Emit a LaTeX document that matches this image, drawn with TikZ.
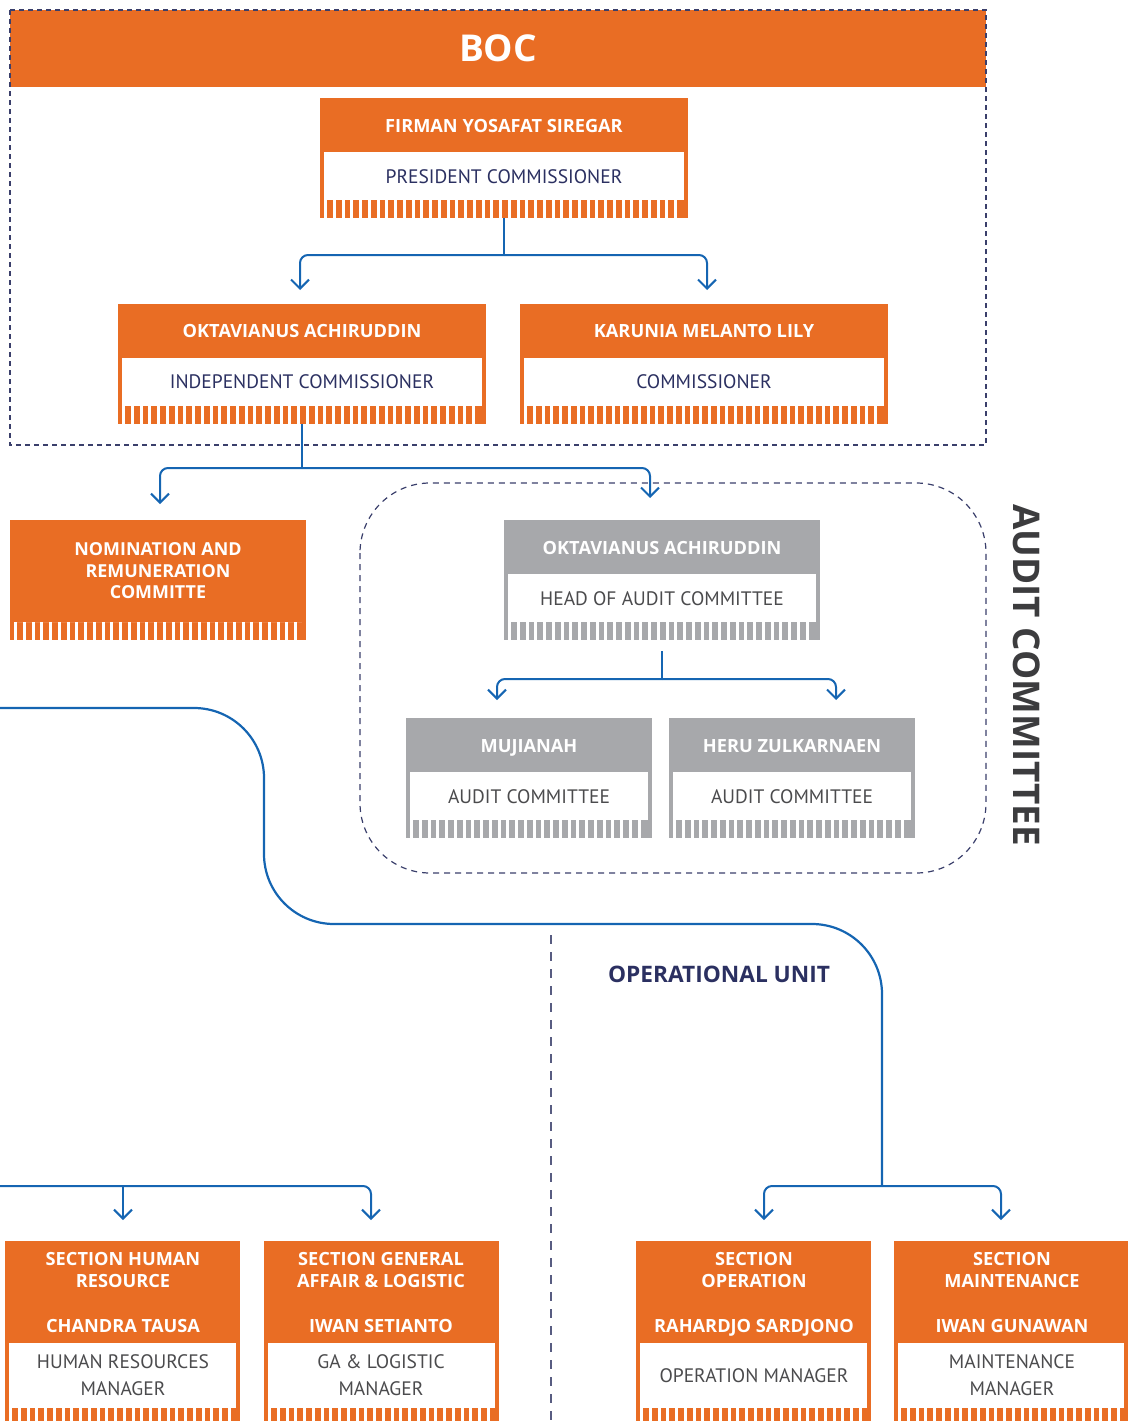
\documentclass[tikz,border=0pt]{standalone}
\usepackage{fontspec}
\setmainfont{PT Sans}
\newfontfamily\bfam{Open Sans}
\usetikzlibrary{arrows.meta,fit}
\definecolor{orgC}{HTML}{E96D24}
\definecolor{grayC}{HTML}{A7A8AB}
\definecolor{blueC}{HTML}{1565B2}
\definecolor{navyC}{HTML}{2B3061}
\definecolor{dashC}{HTML}{3A3F6B}
\definecolor{tgray}{HTML}{4B4B4D}
\definecolor{audC}{HTML}{3C3C3E}
\newcommand\orgbox[8]{%
  \fill[#8] (#2,#3) rectangle (#4,#5);
  \fill[white] (#2+4,#6) rectangle (#4-4,#7);
  \pgfmathsetmacro\gA{#2+4}\pgfmathsetmacro\gB{#2+4+8.75}\pgfmathsetmacro\gE{#4-6}%
  \foreach \gx in {\gA,\gB,...,\gE}{\fill[white] (\gx,#7) rectangle (\gx+3,#5);}
  \coordinate (#1-nw) at (#2,#3);
  \coordinate (#1-se) at (#4,#5);
  \node[fit=(#1-nw)(#1-se), inner sep=0] (#1) {};
}
\begin{document}
\begin{tikzpicture}[x=1pt,y=-1pt,
  hdr/.style={text=white,font=\fontsize{18.2}{22}\bfam\bfseries,align=center,inner sep=0},
  hdrone/.style={hdr,text height=13pt,text depth=0pt},
  role/.style={text=navyC,font=\fontsize{19.5}{27}\selectfont,align=center,inner sep=0},
  grole/.style={role,text=tgray},
  conn/.style={draw=blueC,line width=2pt,rounded corners=8pt},
  arr/.style={-{Straight Barb[length=9pt,width=18pt]}},
  dashframe/.style={draw=dashC,line width=1.2pt}
]
\useasboundingbox (0,0) rectangle (1128,1421);

% ---------- BOC frame ----------
\fill[orgC] (10,10) rectangle (986,87);
\draw[dashframe,dash pattern=on 5pt off 4pt] (10,10) rectangle (986,445);
\node[text=white,font=\fontsize{37}{37}\bfam\bfseries] (boc) at (498,48) {BOC};

% ---------- Audit committee frame ----------
\draw[dashframe,dash pattern=on 6pt off 5pt,rounded corners=70pt] (360,483) rectangle (986,873);
\node[text=audC,font=\fontsize{36.8}{36.8}\bfam\bfseries,rotate=-90] (aclabel) at (1027,675) {AUDIT COMMITTEE};

% ---------- operational divider ----------
\draw[draw=dashC!85,line width=1.2pt,dash pattern=on 9pt off 8pt] (551,935) -- (551,1421);
\node[text=navyC,font=\fontsize{22.7}{22.7}\bfam\bfseries] (oplabel) at (719,974) {OPERATIONAL UNIT};

% ---------- boxes ----------
\orgbox{pres}{320}{98}{688}{218}{152}{200}{orgC}
\node[hdrone] (pres-n) at (504,126) {FIRMAN YOSAFAT SIREGAR};
\node[role] (pres-r) at (504,177) {PRESIDENT COMMISSIONER};

\orgbox{oa}{118}{304}{486}{424}{358}{406}{orgC}
\node[hdrone] (oa-n) at (302,331) {OKTAVIANUS ACHIRUDDIN};
\node[role] (oa-r) at (302,382) {INDEPENDENT COMMISSIONER};

\orgbox{km}{520}{304}{888}{424}{358}{406}{orgC}
\node[hdrone] (km-n) at (704,331) {KARUNIA MELANTO LILY};
\node[role] (km-r) at (704,382) {COMMISSIONER};

\orgbox{nom}{10}{520}{306}{640}{622}{622}{orgC}
\node[hdr,font=\fontsize{17.9}{21.5}\bfam\bfseries] (nom-n) at (158,571) {NOMINATION AND\\REMUNERATION\\COMMITTE};

\orgbox{hac}{504}{520}{820}{640}{574}{622}{grayC}
\node[hdrone] (hac-n) at (662,548) {OKTAVIANUS ACHIRUDDIN};
\node[grole] (hac-r) at (662,599) {HEAD OF AUDIT COMMITTEE};

\orgbox{muj}{406}{718}{652}{838}{772}{820}{grayC}
\node[hdrone] (muj-n) at (529,746) {MUJIANAH};
\node[grole] (muj-r) at (529,797) {AUDIT COMMITTEE};

\orgbox{heru}{669}{718}{915}{838}{772}{820}{grayC}
\node[hdrone] (heru-n) at (792,746) {HERU ZULKARNAEN};
\node[grole] (heru-r) at (792,797) {AUDIT COMMITTEE};

\orgbox{hr}{5}{1241}{240}{1421}{1343}{1408}{orgC}
\node[hdr] (hr-s) at (123,1270) {SECTION HUMAN\\RESOURCE};
\node[hdrone] (hr-n) at (123,1326) {CHANDRA TAUSA};
\node[grole] (hr-r) at (123,1375.5) {HUMAN RESOURCES\\MANAGER};

\orgbox{ga}{264}{1241}{499}{1421}{1343}{1408}{orgC}
\node[hdr] (ga-s) at (381,1270) {SECTION GENERAL\\AFFAIR \& LOGISTIC};
\node[hdrone] (ga-n) at (381,1326) {IWAN SETIANTO};
\node[grole] (ga-r) at (381,1375.5) {GA \& LOGISTIC\\MANAGER};

\orgbox{op}{636}{1241}{871}{1421}{1343}{1408}{orgC}
\node[hdr] (op-s) at (754,1270) {SECTION\\OPERATION};
\node[hdrone] (op-n) at (754,1326) {RAHARDJO SARDJONO};
\node[grole] (op-r) at (754,1376) {OPERATION MANAGER};

\orgbox{mt}{894}{1241}{1128}{1421}{1343}{1408}{orgC}
\node[hdr] (mt-s) at (1012,1270) {SECTION\\MAINTENANCE};
\node[hdrone] (mt-n) at (1012,1326) {IWAN GUNAWAN};
\node[grole] (mt-r) at (1012,1375.5) {MAINTENANCE\\MANAGER};

% ---------- connector points ----------
\coordinate (j1) at (504,255);
\coordinate (t-oa) at (300,290);
\coordinate (t-km) at (707,290);
\coordinate (j2) at (302,468);
\coordinate (t-nom) at (160,504);
\coordinate (t-hac) at (650,498);
\coordinate (j3) at (662,679);
\coordinate (t-muj) at (497,700);
\coordinate (t-heru) at (836,700);
\coordinate (cstart) at (0,708);
\coordinate (j4) at (882,1186);
\coordinate (t-op) at (764,1220);
\coordinate (t-mt) at (1001,1220);
\coordinate (lstart) at (0,1186);
\coordinate (j5) at (123,1186);
\coordinate (t-hr) at (123,1220);
\coordinate (t-ga) at (371,1220);

% ---------- connectors ----------
\draw[conn] (pres.south) -- (j1);
\draw[conn,arr] (j1) -| (t-oa);
\draw[conn,arr] (j1) -| (t-km);

\draw[conn] (oa.south) -- (j2);
\draw[conn,arr] (j2) -| (t-nom);
\draw[conn,arr] (j2) -| (t-hac);

\draw[conn] ([yshift=-11pt]hac.south) -- (j3);
\draw[conn,arr] (j3) -| (t-muj);
\draw[conn,arr] (j3) -| (t-heru);

\draw[conn,line width=2.2pt,rounded corners=70pt] (cstart) -- (264,708) -- (264,924) -- (882,924) -- (j4);
\draw[conn,arr] (j4) -| (t-op);
\draw[conn,arr] (j4) -| (t-mt);

\draw[conn,arr] (lstart) -| (t-ga);
\draw[conn,arr] (j5) -- (t-hr);
\end{tikzpicture}
\end{document}
